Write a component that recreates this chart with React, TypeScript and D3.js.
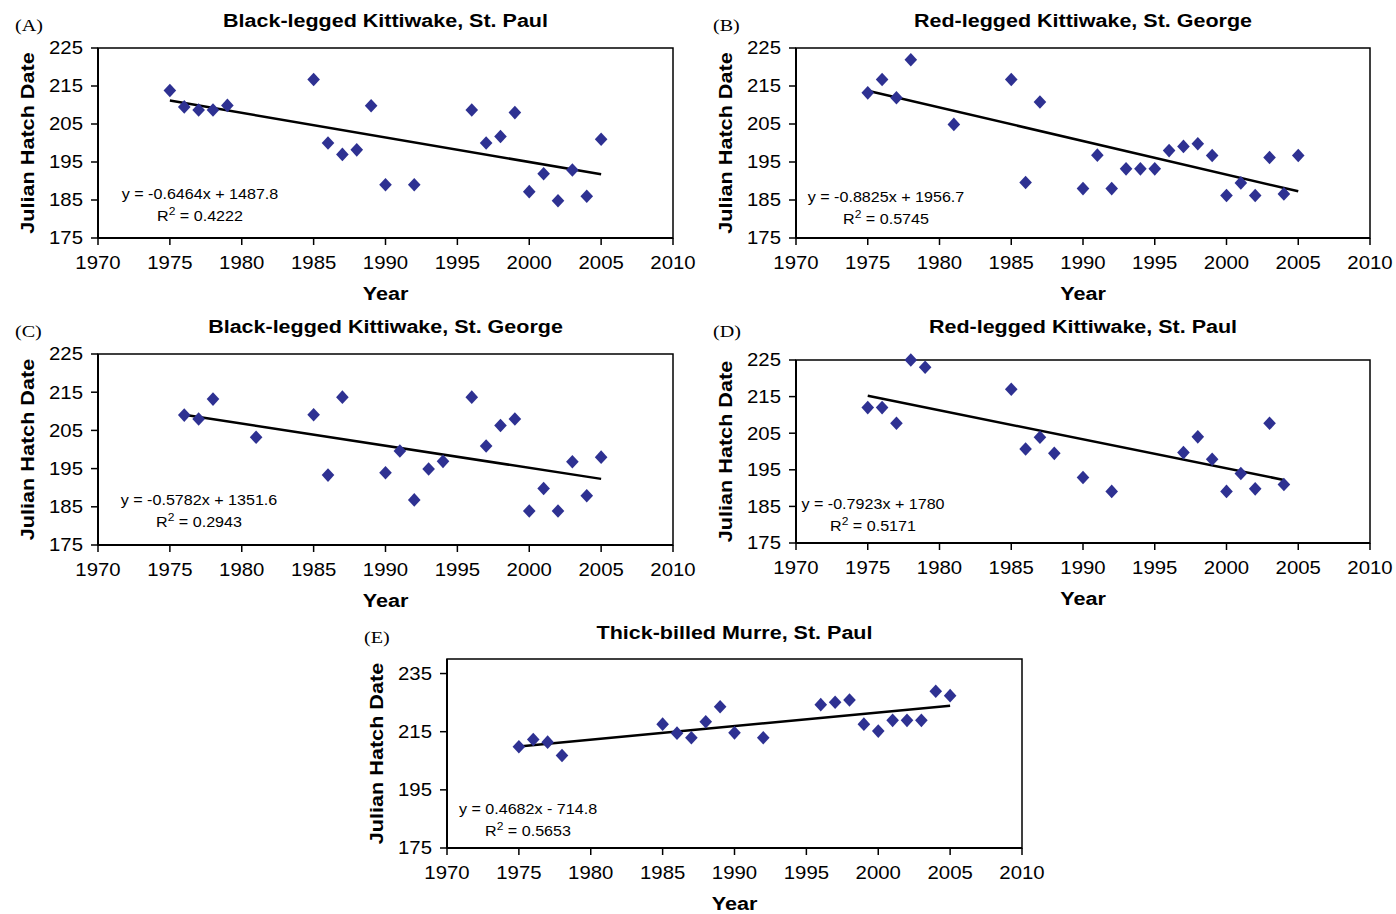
import React from "react";
import * as d3 from "d3";

// ---------- data ----------
const xTickLabels = [1970, 1975, 1980, 1985, 1990, 1995, 2000, 2005, 2010];
const yTicksKitti = [175, 185, 195, 205, 215, 225];
const yTicksMurre = [175, 195, 215, 235];

const titles = [
  "Black-legged Kittiwake, St. Paul",
  "Red-legged Kittiwake, St. George",
  "Black-legged Kittiwake, St. George",
  "Red-legged Kittiwake, St. Paul",
  "Thick-billed Murre, St. Paul",
];
const panelLetters = ["(A)", "(B)", "(C)", "(D)", "(E)"];

const yearsA = [1975, 1976, 1977, 1978, 1979, 1985, 1986, 1987, 1988, 1989, 1990, 1992, 1996, 1997, 1998, 1999, 2000, 2001, 2002, 2003, 2004, 2005];
const hatchA = [213.8, 209.5, 208.7, 208.7, 209.9, 216.7, 200, 197, 198.2, 209.8, 189, 189, 208.7, 200, 201.7, 208, 187.2, 191.9, 184.8, 192.9, 186, 201];

const yearsB = [1975, 1976, 1977, 1978, 1981, 1985, 1986, 1987, 1990, 1991, 1992, 1993, 1994, 1995, 1996, 1997, 1998, 1999, 2000, 2001, 2002, 2003, 2004, 2005];
const hatchB = [213.2, 216.7, 211.9, 221.9, 204.9, 216.7, 189.6, 210.8, 188, 196.8, 188, 193.2, 193.2, 193.2, 198, 199.1, 199.8, 196.7, 186.2, 189.5, 186.2, 196.2, 186.6, 196.7];

const yearsC = [1976, 1977, 1978, 1981, 1985, 1986, 1987, 1990, 1991, 1992, 1993, 1994, 1996, 1997, 1998, 1999, 2000, 2001, 2002, 2003, 2004, 2005];
const hatchC = [209, 208, 213.2, 203.2, 209.1, 193.3, 213.7, 193.9, 199.6, 186.8, 194.9, 196.9, 213.7, 200.9, 206.3, 208, 183.9, 189.8, 183.9, 196.8, 187.9, 198];

const yearsD = [1975, 1976, 1977, 1978, 1979, 1985, 1986, 1987, 1988, 1990, 1992, 1997, 1998, 1999, 2000, 2001, 2002, 2003, 2004];
const hatchD = [212, 212, 207.7, 225, 223, 217, 200.7, 203.9, 199.5, 192.9, 189.1, 199.7, 204, 197.9, 189.1, 194, 189.8, 207.7, 191];

const yearsE = [1975, 1976, 1977, 1978, 1985, 1986, 1987, 1988, 1989, 1990, 1992, 1996, 1997, 1998, 1999, 2000, 2001, 2002, 2003, 2004, 2005];
const hatchE = [209.8, 212.3, 211.4, 206.8, 217.6, 214.5, 212.9, 218.4, 223.6, 214.6, 212.9, 224.3, 225.1, 225.9, 217.6, 215.2, 218.9, 218.9, 218.9, 228.9, 227.4];

const slopes = [-0.6464, -0.8825, -0.5782, -0.7923, 0.4682];
const intercepts = [1487.8, 1956.7, 1351.6, 1780, -714.8];
const eqLabels = [
  "y = -0.6464x + 1487.8",
  "y = -0.8825x + 1956.7",
  "y = -0.5782x + 1351.6",
  "y = -0.7923x + 1780",
  "y = 0.4682x - 714.8",
];
const r2Values = ["0.4222", "0.5745", "0.2943", "0.5171", "0.5653"];

const yDomains = [
  [175, 225],
  [175, 225],
  [175, 225],
  [175, 225],
  [175, 240],
];
const xDomain = [1970, 2010];

// ---------- layout ----------
const layouts = [
  { left: 98, right: 673, top: 48, bottom: 238, eqX: 200, eqY: 199, titleY: 27, letterY: 31 },
  { left: 796, right: 1370, top: 48, bottom: 238, eqX: 886, eqY: 202, titleY: 27, letterY: 31 },
  { left: 98, right: 673, top: 354, bottom: 545, eqX: 199, eqY: 505, titleY: 333, letterY: 337 },
  { left: 796, right: 1370, top: 360, bottom: 543, eqX: 873, eqY: 509, titleY: 333, letterY: 337 },
  { left: 447, right: 1022, top: 659, bottom: 848, eqX: 528, eqY: 814, titleY: 639, letterY: 643 },
];

const SX = 1.15;
const SANS = "Arial, 'Liberation Sans', Helvetica, sans-serif";
const SERIF = "'Times New Roman', 'Liberation Serif', serif";
const MARK = "#2E3192";

function T(props: any) {
  const { x, y, rotate = 0, anchor = "middle", size, bold, family = SANS, children } = props;
  return (
    <text
      transform={`translate(${x},${y}) rotate(${rotate}) scale(${SX},1)`}
      textAnchor={anchor}
      fontSize={size}
      fontWeight={bold ? "bold" : "normal"}
      fontFamily={family}
      fill="#000"
    >
      {children}
    </text>
  );
}

const diamond = "M0,-6.8L6.3,0L0,6.8L-6.3,0Z";

function Panel({ i, years, vals, yTicks }: any) {
  const L = layouts[i];
  const x = d3.scaleLinear().domain(xDomain).range([L.left, L.right]);
  const y = d3.scaleLinear().domain(yDomains[i]).range([L.bottom, L.top]);
  const x0 = d3.min(years) as number;
  const x1 = d3.max(years) as number;
  const trend: [number, number][] = [x0, x1].map((yr) => [yr, slopes[i] * yr + intercepts[i]]);
  const line = d3
    .line<[number, number]>()
    .x((d) => x(d[0]))
    .y((d) => y(d[1]));
  const cx = (L.left + L.right) / 2;
  const cy = (L.top + L.bottom) / 2;
  return (
    <g>
      <rect x={L.left} y={L.top} width={L.right - L.left} height={L.bottom - L.top} fill="none" stroke="#000" strokeWidth={1.5} />
      <line x1={L.left} x2={L.left} y1={L.top} y2={L.bottom} stroke="#000" strokeWidth={2} />
      <line x1={L.left} x2={L.right} y1={L.bottom} y2={L.bottom} stroke="#000" strokeWidth={2} />
      {yTicks.map((t: number) => (
        <g key={"y" + t}>
          <line x1={L.left - 7} x2={L.left} y1={y(t)} y2={y(t)} stroke="#000" strokeWidth={1.5} />
          <T x={L.left - 15} y={y(t) + 6.4} anchor="end" size={17.7}>
            {t}
          </T>
        </g>
      ))}
      {xTickLabels.map((t) => (
        <g key={"x" + t}>
          <line x1={x(t)} x2={x(t)} y1={L.bottom} y2={L.bottom + 7} stroke="#000" strokeWidth={1.5} />
          <T x={x(t)} y={L.bottom + 31} size={17.7}>
            {t}
          </T>
        </g>
      ))}
      <path d={line(trend) || ""} fill="none" stroke="#000" strokeWidth={2.5} />
      {years.map((yr: number, k: number) => (
        <path key={k} d={diamond} transform={`translate(${x(yr)},${y(vals[k])})`} fill={MARK} />
      ))}
      <T x={L.eqX} y={L.eqY} size={14}>
        {eqLabels[i]}
      </T>
      <text
        transform={`translate(${L.eqX},${L.eqY + 21.5}) scale(${SX},1)`}
        textAnchor="middle"
        fontSize={14}
        fontFamily={SANS}
      >
        R<tspan fontSize={10.5} dy={-6}>2</tspan>
        <tspan dy={6}> = {r2Values[i]}</tspan>
      </text>
      <T x={cx} y={L.titleY} size={18.7} bold>
        {titles[i]}
      </T>
      <T x={cx} y={L.bottom + 62} size={18.8} bold>
        Year
      </T>
      <T x={L.left - 64} y={cy} rotate={-90} size={18.8} bold>
        Julian Hatch Date
      </T>
      <T x={L.left - 83} y={L.letterY} anchor="start" size={17.5} family={SERIF}>
        {panelLetters[i]}
      </T>
    </g>
  );
}

export default function App() {
  const series = [
    { years: yearsA, vals: hatchA, yTicks: yTicksKitti },
    { years: yearsB, vals: hatchB, yTicks: yTicksKitti },
    { years: yearsC, vals: hatchC, yTicks: yTicksKitti },
    { years: yearsD, vals: hatchD, yTicks: yTicksKitti },
    { years: yearsE, vals: hatchE, yTicks: yTicksMurre },
  ];
  return (
    <svg
      width={1396}
      height={914}
      style={{ position: "absolute", left: 0, top: 0, background: "#fff" }}
    >
      <rect width={1396} height={914} fill="#fff" />
      {series.map((s, i) => (
        <Panel key={i} i={i} years={s.years} vals={s.vals} yTicks={s.yTicks} />
      ))}
    </svg>
  );
}
